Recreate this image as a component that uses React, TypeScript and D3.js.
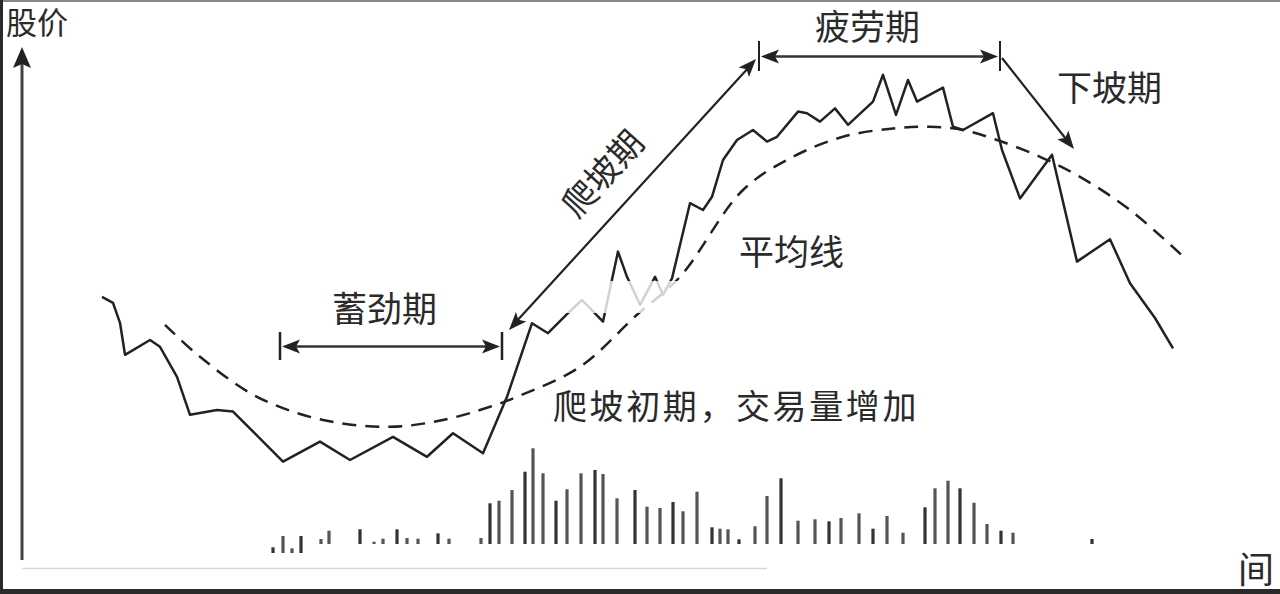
import React from 'react';
import * as d3 from 'd3';

// ---------- data (time units, price units) ----------
const pricePoints: [number, number][] = [
  [0.2, 45.8], [1.3, 44.3], [2.0, 39.3], [2.5, 31.3], [5.0, 35.0], [6.0, 33.3],
  [7.7, 25.8], [9.0, 16.3], [11.7, 17.5], [13.3, 17.1], [18.3, 4.6], [22.0, 9.6],
  [25.0, 5.0], [29.3, 10.8], [32.7, 5.8], [35.3, 11.7], [38.3, 6.7], [40.7, 20.8],
  [43.2, 39.2], [44.8, 36.7], [46.8, 41.7], [48.2, 45.0], [50.3, 39.6], [51.8, 57.1],
  [52.7, 50.8], [54.0, 43.8], [55.5, 50.8], [56.3, 46.3], [57.2, 50.4], [59.0, 69.2],
  [60.3, 67.5], [61.2, 70.8], [62.3, 80.0], [63.7, 85.0], [65.3, 87.5], [66.7, 84.6],
  [67.7, 85.8], [69.8, 92.1], [70.7, 91.7], [72.0, 89.6], [73.5, 92.9], [74.8, 88.8],
  [77.3, 94.6], [78.3, 101.3], [79.6, 91.3], [80.8, 100.0], [81.7, 94.6], [84.3, 98.1],
  [85.3, 88.3], [86.3, 87.5], [89.3, 91.7], [90.2, 82.5], [92.0, 70.4], [95.2, 81.3],
  [97.7, 54.6], [101.0, 60.2], [103.0, 49.2], [105.5, 40.5], [107.3, 32.9],
];

const averagePoints: [number, number][] = [
  [6.5, 38.8], [10.0, 30.8], [15.7, 20.8], [22.3, 15.0], [29.0, 13.3], [34.3, 15.0],
  [39.0, 18.3], [41.7, 20.8], [48.0, 28.3], [53.7, 41.3], [58.0, 50.8], [64.3, 72.5],
  [69.3, 80.8], [74.3, 85.8], [79.3, 87.9], [83.0, 88.3], [86.3, 87.5], [89.7, 85.0],
  [94.0, 80.8], [98.0, 75.8], [103.0, 67.5], [108.7, 55.0],
];

const volumeTimes: number[] = [
  17.3, 18.3, 19.2, 20.1, 22.1, 22.9, 26.0, 27.4, 28.3, 29.7, 30.7, 31.8, 33.8, 34.9,
  38.1, 39.0, 39.9, 41.2, 42.5, 43.3, 44.3, 45.6, 46.7, 48.1, 49.5, 50.3, 51.7, 53.5,
  54.7, 56.0, 57.3, 58.3, 59.7, 61.2, 62.0, 62.8, 63.9, 65.5, 66.7, 68.1, 69.8, 71.5,
  72.9, 74.1, 75.9, 77.3, 78.7, 80.3, 82.5, 83.5, 84.8, 86.0, 87.4, 88.7, 90.1, 91.3,
  92.8, 99.2, 100.7,
];
const volumeValues: number[] = [
  5.7, 17, 4.7, 17, 14, 22.3, 23.7, 11.3, 14.3, 23.7, 15, 14.3, 19.7, 14.3,
  15, 49.7, 52.3, 63, 81.3, 104.7, 79.7, 52.3, 63.7, 79.7, 83, 79, 54.7, 63,
  46.3, 45, 51, 41.7, 61.3, 25.7, 24.3, 23.7, 13.7, 26.7, 57, 74.7, 32.3, 33.7,
  31.7, 35, 39.7, 24.3, 37, 20.3, 45.7, 64.7, 72.3, 64.7, 50.3, 29, 22.3, 20.3,
  8, 14, 8,
];

const axisLabels = ['股价', '间'];
const phaseLabels = ['蓄劲期', '爬坡期', '疲劳期', '下坡期'];
const noteLabels = ['平均线', '爬坡初期，交易量增加'];

// ---------- scales ----------
const x = d3.scaleLinear().domain([0, 100]).range([100, 1100]);
const y = d3.scaleLinear().domain([0, 100]).range([480, 80]);
const yVol = d3.scaleLinear().domain([0, 100]).range([553, 453]);

const FONT = "'Noto Sans CJK SC', 'Noto Sans CJK JP', sans-serif";
const INK = '#222';

function Head({ tip, from, len = 18, half = 7 }: { tip: [number, number]; from: [number, number]; len?: number; half?: number }) {
  const dx = tip[0] - from[0];
  const dy = tip[1] - from[1];
  const L = Math.hypot(dx, dy);
  const ux = dx / L, uy = dy / L;
  const bx = tip[0] - ux * len, by = tip[1] - uy * len;
  const px = -uy * half, py = ux * half;
  const pts = [
    [tip[0], tip[1]],
    [bx + px, by + py],
    [bx + ux * 4, by + uy * 4],
    [bx - px, by - py],
  ];
  return <polygon points={pts.map(p => p.join(',')).join(' ')} fill={INK} />;
}

export default function App() {
  const priceLine = d3.line<[number, number]>()
    .x(d => x(d[0]))
    .y(d => y(d[1]))
    .curve(d3.curveLinear);
  const avgLine = d3.line<[number, number]>()
    .x(d => x(d[0]))
    .y(d => y(d[1]))
    .curve(d3.curveCatmullRom.alpha(0.5));
  const vol = volumeTimes.map((t, i) => ({ t, v: volumeValues[i] }));

  const textStyle = { fontFamily: FONT, fontSize: 34, fill: '#2a2a2a' } as React.CSSProperties;

  return (
    <svg width={1280} height={594} style={{ position: 'absolute', left: 0, top: 0, background: '#fff' }}>
      <rect x={0} y={0} width={1280} height={594} fill="#fff" />
      {/* frame remnants */}
      <rect x={0} y={0} width={1280} height={2} fill="#888" />
      <rect x={0} y={0} width={3} height={594} fill="#2a2a2a" />
      <rect x={0} y={589} width={1280} height={5} fill="#2a2a2a" />

      {/* faint time axis */}
      <line x1={22} x2={767} y1={568.5} y2={568.5} stroke="#d8d8d8" strokeWidth={1.5} />

      {/* volume bars */}
      {vol.map((d, i) => (
        <rect key={i} x={x(d.t) - 1.6} width={3.2} y={yVol(d.v)} height={yVol(0) - yVol(d.v)}
          fill={i % 3 === 0 ? '#333' : '#555'} />
      ))}
      {/* whited-out band at the bar foot */}
      <rect x={305} y={544} width={930} height={20} fill="#fff" />

      {/* price axis */}
      <line x1={22} x2={22} y1={560} y2={64} stroke="#444" strokeWidth={3} />
      <Head tip={[22, 47]} from={[22, 100]} len={21} half={9} />
      <text x={6} y={34} style={{ ...textStyle, fontSize: 31 }}>{axisLabels[0]}</text>
      <text x={1238} y={583} style={{ ...textStyle, fontSize: 36 }}>{axisLabels[1]}</text>

      {/* moving average */}
      <path d={avgLine(averagePoints) || ''} fill="none" stroke={INK} strokeWidth={2.5} strokeDasharray="14 9" />
      {/* price */}
      <path d={priceLine(pricePoints) || ''} fill="none" stroke={INK} strokeWidth={2.5} strokeLinejoin="round" />

      {/* watermark band */}
      <rect x={507} y={281} width={258} height={32} fill="#fff" opacity={0.8} />

      {/* 蓄劲期 */}
      <line x1={280} x2={280} y1={332} y2={360} stroke={INK} strokeWidth={2.5} />
      <line x1={502} x2={502} y1={332} y2={360} stroke={INK} strokeWidth={2.5} />
      <line x1={290} x2={492} y1={346.5} y2={346.5} stroke="#333" strokeWidth={2.5} />
      <Head tip={[282, 346.5]} from={[320, 346.5]} />
      <Head tip={[500, 346.5]} from={[460, 346.5]} />
      <text x={332} y={322} style={{ ...textStyle, fontSize: 35 }}>{phaseLabels[0]}</text>

      {/* 爬坡期 */}
      <line x1={515} y1={323} x2={750} y2={66} stroke={INK} strokeWidth={2.2} />
      <Head tip={[509, 330]} from={[560, 274]} />
      <Head tip={[756, 59]} from={[700, 120]} />
      <text transform="translate(601,172) rotate(-47.7)" textAnchor="middle" dominantBaseline="central" style={textStyle}>{phaseLabels[1]}</text>

      {/* 疲劳期 */}
      <line x1={759} x2={759} y1={41} y2={71} stroke={INK} strokeWidth={2} />
      <line x1={1000} x2={1000} y1={41} y2={71} stroke={INK} strokeWidth={2} />
      <line x1={770} x2={990} y1={56.5} y2={56.5} stroke="#333" strokeWidth={2.5} />
      <Head tip={[761, 56.5]} from={[800, 56.5]} />
      <Head tip={[998, 56.5]} from={[960, 56.5]} />
      <text x={815} y={40} style={{ ...textStyle, fontSize: 35 }}>{phaseLabels[2]}</text>

      {/* 下坡期 */}
      <line x1={1002} y1={58} x2={1066} y2={139} stroke={INK} strokeWidth={2.2} />
      <Head tip={[1074, 149]} from={[1002, 58]} />
      <text x={1057} y={101} style={{ ...textStyle, fontSize: 35 }}>{phaseLabels[3]}</text>

      {/* notes */}
      <text x={739} y={265} style={{ ...textStyle, fontSize: 35 }}>{noteLabels[0]}</text>
      <text x={553} y={419} style={{ ...textStyle, letterSpacing: 2.6 }}>{noteLabels[1]}</text>
    </svg>
  );
}
